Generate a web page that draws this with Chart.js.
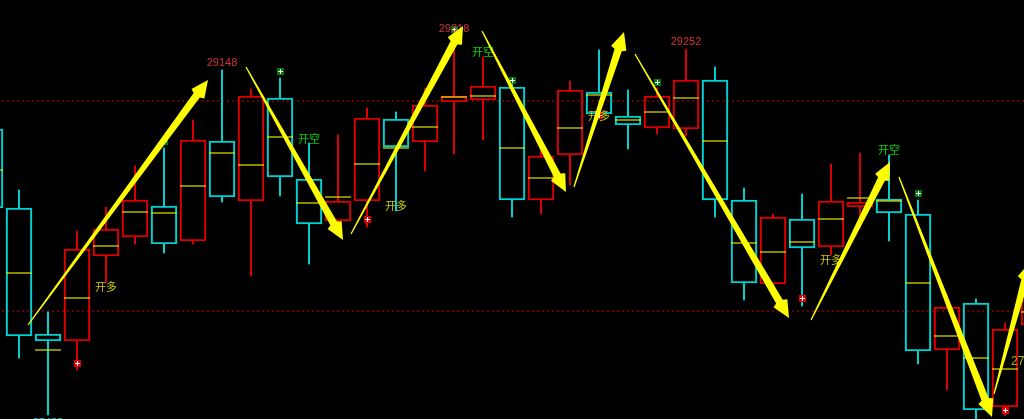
<!DOCTYPE html>
<html><head><meta charset="utf-8">
<script src="https://cdn.jsdelivr.net/npm/chart.js@4.4.0/dist/chart.umd.min.js"></script>
<style>html,body{margin:0;padding:0;background:#000;overflow:hidden}#wrap{position:relative;width:1024px;height:419px;background:#000}</style>
</head><body><div id="wrap"><canvas id="c"></canvas></div>
<script>
// ---- data ----
const candleIndex = [0,1,2,3,4,5,6,7,8,9,10,11,12,13,14,15,16,17,18,19,20,21,22,23,24,25,26,27,28,29,30,31,32,33,34,35,36];
const openPrices  = [28853,28458,27828,27793,28218,28313,28468,28293,28793,28493,29008,28603,28393,28493,28903,28788,28988,28998,29063,28498,28723,29038,28918,28858,28853,29098,28498,28078,28403,28263,28463,28503,28428,27748,27983,27463,27873];
const highPrices  = [28948,28548,27938,28343,28463,28668,28758,28898,29148,29053,29108,28783,28823,28958,28938,29058,29318,29213,29078,28748,29093,29248,29048,29058,29252,29163,28558,28428,28528,28678,28733,28723,28498,28023,28003,27883,28048];
const lowPrices   = [28423,27708,27423,27648,28083,28278,28233,28278,28488,28118,28518,28178,28358,28363,28443,28643,28728,28798,28413,28428,28573,28903,28753,28828,28818,28413,27998,28048,27968,28223,28358,28293,27678,27548,27373,27418,27798];
const closePrices = [28458,27818,27793,28253,28353,28498,28278,28798,28513,29018,28613,28378,28493,28908,28763,28973,29018,29068,28498,28718,29048,28928,28873,29018,29098,28498,28083,28413,28258,28493,28488,28433,27743,27963,27448,27853,27998];
const midPrices   = [28648,28133,27748,28008,28268,28438,28433,28568,28733,28673,28813,28483,28513,28678,28758,28863,29013,29018,28758,28608,28858,29023,28898,28938,29008,28793,28283,28238,28288,28403,28508,28493,28083,27818,27708,27653,27938];
const levelPrices = [28993, 27943];
const buyMarkIndex  = [3,13,21,28,35];
const buyMarkPrice  = [27683,28403,28923,28008,27448];
const sellMarkIndex = [6,10,16,18,23,32];
const sellMarkPrice = [28793,29143,29353,29098,29088,28533];
const highLabelIndex = [8,16,24];
const lowLabelIndex = [2];
const longText = '开多';
const longIndex = [4,14,21,29];
const longPrice = [28063,28468,28918,28198];
const shortText = '开空';
const shortIndex = [11,17,31];
const shortPrice = [28803,29238,28748];
const lastPriceText = '27688';
const lastPriceIndex = [35.207];
const lastPricePrice = [27688];
const arrowTail = [[1.310,27873],[8.828,29163],[12.448,28328],[16.966,29343],[20.138,28563],[22.241,29228],[28.310,27898],[31.345,28613],[34.621,27528]];
const arrowHead = [[7.517,29098],[12.172,28298],[16.310,29368],[19.862,28538],[21.862,29338],[27.552,27908],[31.034,28688],[34.552,27413],[35.862,28188]];

// axis window
const X_MIN = 10/29, X_MAX = 1034/29;
const Y_MIN = 27403, Y_MAX = 29498;

const UP = '#d80000', DOWN = '#00d0d0', MID = '#e4e400';
const isUp = i => closePrices[i] >= openPrices[i];
const colorOf = c => isUp(c.dataIndex) ? UP : DOWN;

function makeMark(fill){
  const cv = document.createElement('canvas'); cv.width = 8; cv.height = 8;
  const g = cv.getContext('2d');
  g.fillStyle = fill; g.fillRect(1,1,7,7);
  g.fillStyle = '#ffffff'; g.fillRect(4,2,1,5); g.fillRect(2,4,5,1);
  return cv;
}
const redMark = makeMark('#e00000');
const greenMark = makeMark('#007a10');

function drawArrow(ctx,x0,y0,x1,y1){
  const dx=x1-x0, dy=y1-y0, len=Math.hypot(dx,dy);
  const ux=dx/len, uy=dy/len, nx=-uy, ny=ux;
  const L=19, hw=8, w0=0.6, w1=3.8;
  const bx=x1-ux*L, by=y1-uy*L;
  ctx.beginPath();
  ctx.moveTo(x0+nx*w0,y0+ny*w0);
  ctx.lineTo(bx+nx*w1,by+ny*w1);
  ctx.lineTo(bx+nx*hw+ux*2,by+ny*hw+uy*2);
  ctx.lineTo(x1,y1);
  ctx.lineTo(bx-nx*hw+ux*2,by-ny*hw+uy*2);
  ctx.lineTo(bx-nx*w1,by-ny*w1);
  ctx.lineTo(x0-nx*w0,y0-ny*w0);
  ctx.closePath();
  ctx.fillStyle='#ffff00';
  ctx.fill();
}

const overlay = {
  id:'overlay',
  afterDatasetsDraw(chart){
    const {ctx, scales:{x,y}} = chart;
    ctx.save();
    ctx.textAlign='center'; ctx.textBaseline='middle';
    ctx.font='11px "Liberation Sans", Arial, sans-serif';
    ctx.fillStyle='#d43434';
    highLabelIndex.forEach(i=>ctx.fillText(String(highPrices[i]), x.getPixelForValue(i), y.getPixelForValue(highPrices[i])-7));
    ctx.fillStyle='#00c8c8';
    lowLabelIndex.forEach(i=>ctx.fillText(String(lowPrices[i]), x.getPixelForValue(i), y.getPixelForValue(lowPrices[i])+8));
    ctx.font='11px "Noto Sans CJK SC", sans-serif';
    ctx.fillStyle='#c8c800';
    longIndex.forEach((i,k)=>ctx.fillText(longText, x.getPixelForValue(i), y.getPixelForValue(longPrice[k])));
    ctx.fillStyle='#00d000';
    shortIndex.forEach((i,k)=>ctx.fillText(shortText, x.getPixelForValue(i), y.getPixelForValue(shortPrice[k])));
    ctx.textAlign='left';
    ctx.font='12px "Liberation Sans", Arial, sans-serif';
    ctx.fillStyle='#b4b400';
    lastPriceIndex.forEach((i,k)=>ctx.fillText(lastPriceText, x.getPixelForValue(i), y.getPixelForValue(lastPricePrice[k])));
    arrowTail.forEach((t,k)=>{
      const h=arrowHead[k];
      drawArrow(ctx, x.getPixelForValue(t[0]), y.getPixelForValue(t[1]), x.getPixelForValue(h[0]), y.getPixelForValue(h[1]));
    });
    ctx.restore();
  }
};

const bodyData = candleIndex.map(i=>({x:i, y:[openPrices[i], closePrices[i]]}));
const upperWick = candleIndex.map(i=>({x:i, y:[Math.max(openPrices[i],closePrices[i]), highPrices[i]]}));
const lowerWick = candleIndex.map(i=>({x:i, y:[lowPrices[i], Math.min(openPrices[i],closePrices[i])]}));
const midData = candleIndex.map(i=>({x:i, y:midPrices[i]}));

const datasets = [];
levelPrices.forEach(p=>datasets.push({type:'line', data:[{x:-2,y:p},{x:40,y:p}], borderColor:'#8c0000', borderWidth:1.6, borderDash:[2,3], pointRadius:0, order:20}));
datasets.push({type:'bar', data:upperWick, backgroundColor:colorOf, borderWidth:0, barThickness:1.4, grouped:false, order:10});
datasets.push({type:'bar', data:lowerWick, backgroundColor:colorOf, borderWidth:0, barThickness:1.4, grouped:false, order:10});
datasets.push({type:'bar', data:bodyData, backgroundColor:'rgba(0,0,0,0)', borderColor:colorOf, borderWidth:1.5, borderSkipped:false, barThickness:26, grouped:false, order:9});
datasets.push({type:'line', data:midData, showLine:false, pointStyle:'line', pointRadius:13, pointHoverRadius:13, pointBorderWidth:1.2, pointBorderColor:MID, order:8});
datasets.push({type:'line', data:buyMarkIndex.map((i,k)=>({x:i,y:buyMarkPrice[k]})), showLine:false, pointStyle:redMark, order:1});
datasets.push({type:'line', data:sellMarkIndex.map((i,k)=>({x:i,y:sellMarkPrice[k]})), showLine:false, pointStyle:greenMark, order:1});

new Chart(document.getElementById('c'), {
  type:'bar',
  data:{datasets},
  options:{
    responsive:true, maintainAspectRatio:false, animation:false, events:[],
    layout:{padding:0, autoPadding:false},
    plugins:{legend:{display:false}, tooltip:{enabled:false}},
    scales:{
      x:{type:'linear', min:X_MIN, max:X_MAX, display:false, offset:false, grid:{display:false}},
      y:{type:'linear', min:Y_MIN, max:Y_MAX, display:false, beginAtZero:false, grid:{display:false}}
    }
  },
  plugins:[overlay]
});
</script></body></html>
